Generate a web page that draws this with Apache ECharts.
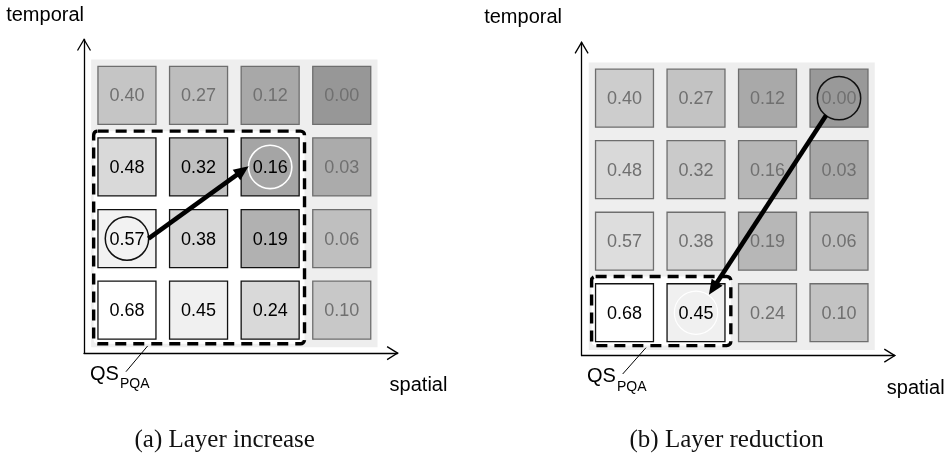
<!DOCTYPE html>
<html>
<head>
<meta charset="utf-8">
<script src="https://cdn.jsdelivr.net/npm/echarts@6/dist/echarts.min.js"></script>
<style>
html,body{margin:0;padding:0;background:#fff;}
#c{width:946px;height:459px;}
</style>
</head>
<body>
<div id="c"></div>
<script>
// ---------- data ----------
const spatialLevels = [0, 1, 2, 3];
const temporalLevels = [0, 1, 2, 3];
// quality scores per temporal level (bottom row first), one value per spatial level
const qsT0 = [0.68, 0.45, 0.24, 0.10];
const qsT1 = [0.57, 0.38, 0.19, 0.06];
const qsT2 = [0.48, 0.32, 0.16, 0.03];
const qsT3 = [0.40, 0.27, 0.12, 0.00];
const qsRows = [qsT0, qsT1, qsT2, qsT3];
// selected operating region: highest spatial index, highest temporal index
const selectA = [2, 2];
const selectB = [1, 0];
// transition (from cell -> to cell), [spatial, temporal]
const fromA = [0, 1], toA = [2, 2];
const fromB = [3, 3], toB = [1, 0];
const captionA = '(a) Layer increase';
const captionB = '(b) Layer reduction';
const xName = 'spatial';
const yName = 'temporal';
const qsMain = 'QS';
const qsSub = 'PQA';

// ---------- styles ----------
const fillA = [
  ['#ffffff', '#f0f0f0', '#d9d9d9', '#c8c8c8'],
  ['#f2f2f2', '#d7d7d7', '#b1b1b1', '#bfbfbf'],
  ['#d9d9d9', '#c0c0c0', '#a5a5a5', '#ababab'],
  ['#c5c5c5', '#bdbdbd', '#a8a8a8', '#979797']
];
const fillB = [
  ['#ffffff', '#f0f0f0', '#cfcfcf', '#c3c3c3'],
  ['#dddddd', '#d6d6d6', '#b7b7b7', '#bebebe'],
  ['#d9d9d9', '#cacaca', '#b6b6b6', '#a8a8a8'],
  ['#cdcdcd', '#c3c3c3', '#a9a9a9', '#999999']
];
const FONT = '"Liberation Sans", Arial, sans-serif';
const AX_MIN = -0.6, AX_MAX = 3.78;

const panels = [
  {
    grid: {left: 84, top: 39.5, width: 313.6, height: 313.6},
    fill: fillA, sel: selectA, from: fromA, to: toA,
    arrow: [[0.30, 1.00], [1.70, 2.01]],
    box: [[-0.465, -0.47], [2.48, 2.50]],
    qs: [-0.517, -0.892], leader: [[0.289, -0.50], [-0.014, -0.86]],
    yPad: [0, 0, 0, 0], whiteRingWidth: 1.6
  },
  {
    grid: {left: 581.6, top: 42.4, width: 313.2, height: 313.2},
    fill: fillB, sel: selectB, from: fromB, to: toB,
    arrow: [[2.82, 2.76], [1.18, 0.25]],
    box: [[-0.46, -0.46], [1.487, 0.506]],
    qs: [-0.524, -0.892], leader: [[0.30, -0.49], [-0.025, -0.857]],
    yPad: [0, 19.6, 0, 0], whiteRingWidth: 1.2
  }
];

const cellData = [];
temporalLevels.forEach(t => spatialLevels.forEach(s => cellData.push([s, t, qsRows[t][s]])));

const chart = echarts.init(document.getElementById('c'), null, {renderer: 'canvas'});

const grids = [], xAxes = [], yAxes = [], series = [];
panels.forEach((p, i) => {
  grids.push(Object.assign({outerBoundsMode: 'none', containLabel: false}, p.grid));
  const axisCommon = {
    type: 'value', gridIndex: i, min: AX_MIN, max: AX_MAX,
    splitLine: {show: false}, axisTick: {show: false}, axisLabel: {show: false},
    axisLine: {show: true, onZero: false, lineStyle: {color: '#000', width: 1.3}},
    nameLocation: 'end'
  };
  xAxes.push(Object.assign({}, axisCommon, {
    name: xName, nameGap: -8,
    nameTextStyle: {fontFamily: FONT, fontSize: 20, color: '#000', align: 'left', verticalAlign: 'top', padding: [22.5, 0, 0, 0]}
  }));
  yAxes.push(Object.assign({}, axisCommon, {
    name: yName, nameGap: 14.5,
    nameTextStyle: {fontFamily: FONT, fontSize: 20, color: '#000', align: 'right', verticalAlign: 'bottom', padding: p.yPad}
  }));

  // background + selected region box
  series.push({
    type: 'custom', xAxisIndex: i, yAxisIndex: i, z: 1, silent: true,
    data: [[0]],
    renderItem: (params, api) => {
      const b0 = api.coord([-0.5, 3.5]), b1 = api.coord([3.5, -0.52]);
      const r0 = api.coord([p.box[0][0], p.box[1][1]]), r1 = api.coord([p.box[1][0], p.box[0][1]]);
      return {type: 'group', children: [
        {type: 'rect', shape: {x: b0[0], y: b0[1], width: b1[0] - b0[0], height: b1[1] - b0[1]},
          style: {fill: '#eeeeee'}},
        {type: 'rect', shape: {x: r0[0], y: r0[1], width: r1[0] - r0[0], height: r1[1] - r0[1], r: 4},
          style: {fill: '#ffffff', stroke: '#000', lineWidth: 3.4, lineDash: [11, 7]}}
      ]};
    }
  });

  // cells
  series.push({
    type: 'custom', xAxisIndex: i, yAxisIndex: i, z: 2, silent: true,
    data: cellData,
    renderItem: (params, api) => {
      const s = api.value(0), t = api.value(1), v = api.value(2);
      const c = api.coord([s, t]);
      const sz = api.size([0.81, 0.81]);
      const inside = s <= p.sel[0] && t <= p.sel[1];
      return {type: 'group', children: [
        {type: 'rect', shape: {x: c[0] - sz[0] / 2, y: c[1] - sz[1] / 2, width: sz[0], height: sz[1]},
          style: {fill: p.fill[t][s], stroke: inside ? '#111' : '#6e6e6e', lineWidth: 1.3}},
        {type: 'text', x: c[0], y: c[1] + 1,
          style: {text: v.toFixed(2), fill: inside ? '#000' : '#707070', font: '18px ' + FONT, align: 'center', verticalAlign: 'middle'}}
      ]};
    }
  });

  // overlays: rings, arrow, axis arrowheads, QS label
  series.push({
    type: 'custom', xAxisIndex: i, yAxisIndex: i, z: 3, silent: true,
    data: [[0]],
    renderItem: (params, api) => {
      const R = api.size([0.303, 0])[0];
      const cf = api.coord(p.from), ct = api.coord(p.to);
      const a = api.coord(p.arrow[0]), b = api.coord(p.arrow[1]);
      const dx = b[0] - a[0], dy = b[1] - a[1], L = Math.hypot(dx, dy), ux = dx / L, uy = dy / L;
      const headL = 15, headW = 6.5;
      const base = [b[0] - ux * headL, b[1] - uy * headL];
      const yt = api.coord([AX_MIN, AX_MAX]), xt = api.coord([AX_MAX, AX_MIN]);
      const q = api.coord(p.qs);
      const l0 = api.coord(p.leader[0]), l1 = api.coord(p.leader[1]);
      return {type: 'group', children: [
        {type: 'circle', shape: {cx: cf[0], cy: cf[1], r: R}, style: {fill: null, stroke: '#111', lineWidth: 1.5}},
        {type: 'circle', shape: {cx: ct[0], cy: ct[1], r: R}, style: {fill: null, stroke: '#ffffff', lineWidth: p.whiteRingWidth}},
        {type: 'line', shape: {x1: a[0], y1: a[1], x2: base[0] + ux * 2, y2: base[1] + uy * 2}, style: {stroke: '#000', lineWidth: 4.6}},
        {type: 'polygon', shape: {points: [b, [base[0] - uy * headW, base[1] + ux * headW], [base[0] + uy * headW, base[1] - ux * headW]]}, style: {fill: '#000'}},
        {type: 'polyline', shape: {points: [[yt[0] - 6.5, yt[1] + 11], yt, [yt[0] + 6.5, yt[1] + 11]]}, style: {fill: null, stroke: '#000', lineWidth: 1.3}},
        {type: 'polyline', shape: {points: [[xt[0] - 10.5, xt[1] - 6.5], xt, [xt[0] - 10.5, xt[1] + 6.5]]}, style: {fill: null, stroke: '#000', lineWidth: 1.3}},
        {type: 'line', shape: {x1: l0[0], y1: l0[1], x2: l1[0], y2: l1[1]}, style: {stroke: '#000', lineWidth: 1}},
        {type: 'text', x: q[0], y: q[1], style: {text: qsMain, fill: '#000', font: '20px ' + FONT, align: 'left', verticalAlign: 'middle'}},
        {type: 'text', x: q[0] + 30, y: q[1] + 10.5, style: {text: qsSub, fill: '#000', font: '14px ' + FONT, align: 'left', verticalAlign: 'middle'}}
      ]};
    }
  });
});

chart.setOption({
  animation: false,
  backgroundColor: '#ffffff',
  title: [
    {text: captionA, left: 224.7, top: 428, textAlign: 'center', padding: 0,
      textStyle: {fontFamily: '"Liberation Serif", "Times New Roman", serif', fontSize: 25, fontWeight: 'normal', color: '#111'}},
    {text: captionB, left: 726.7, top: 428, textAlign: 'center', padding: 0,
      textStyle: {fontFamily: '"Liberation Serif", "Times New Roman", serif', fontSize: 25, fontWeight: 'normal', color: '#111'}}
  ],
  grid: grids,
  xAxis: xAxes,
  yAxis: yAxes,
  series: series
});
</script>
</body>
</html>
